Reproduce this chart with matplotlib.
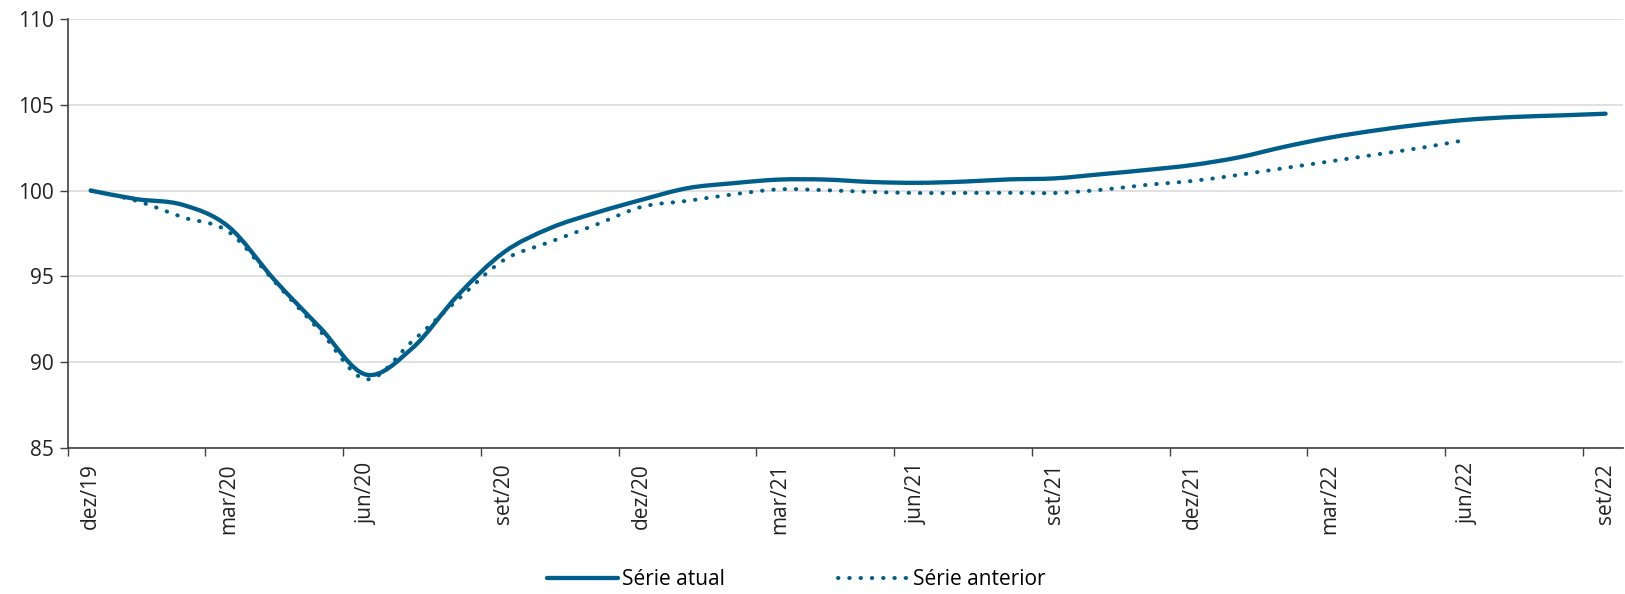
import numpy as np
import matplotlib.pyplot as plt
from matplotlib.path import Path
from matplotlib.patches import PathPatch
from matplotlib.lines import Line2D

plt.rcParams['font.family'] = ['Open Sans', 'DejaVu Sans']

# monthly index, dez/19 = 100
serie_atual = [100.0, 99.5, 99.17, 97.9, 94.8, 92.0, 89.27, 90.8, 93.9, 96.4,
               97.8, 98.7, 99.46, 100.14, 100.43, 100.64, 100.64, 100.5, 100.45,
               100.52, 100.65, 100.71, 100.95, 101.2, 101.49, 101.93, 102.55,
               103.09, 103.51, 103.86, 104.13, 104.29, 104.38, 104.48]
serie_anterior = [100.0, 99.4, 98.45, 97.6, 94.7, 91.8, 89.0, 91.2, 93.65, 95.95,
                  97.0, 98.0, 99.05, 99.4, 99.78, 100.07, 100.02, 99.92, 99.86,
                  99.86, 99.87, 99.86, 100.04, 100.33, 100.56, 100.91, 101.31,
                  101.7, 102.1, 102.5, 102.97]
tick_labels = ['dez/19', 'mar/20', 'jun/20', 'set/20', 'dez/20', 'mar/21',
               'jun/21', 'set/21', 'dez/21', 'mar/22', 'jun/22', 'set/22']
y_ticks = [85, 90, 95, 100, 105, 110]

cor = '#005f8a'


def smooth_path(y):
    # cubic bezier through every point (excel-style smoothed line)
    y = np.asarray(y, dtype=float)
    x = np.arange(len(y), dtype=float)
    p = np.column_stack([x, y])
    pp = np.vstack([p[0], p, p[-1]])
    verts = [p[0]]
    codes = [Path.MOVETO]
    for i in range(len(p) - 1):
        p0, p1, p2, p3 = pp[i], pp[i + 1], pp[i + 2], pp[i + 3]
        c1 = p1 + (p2 - p0) / 6.0
        c2 = p2 - (p3 - p1) / 6.0
        verts += [c1, c2, p2]
        codes += [Path.CURVE4] * 3
    return Path(verts, codes)


fig = plt.figure(figsize=(16.25, 5.94), dpi=100)
ax = fig.add_axes([0.0417, 0.246, 0.9571, 0.722])

dots = (0, (0.1, 2.7))
ax.add_patch(PathPatch(smooth_path(serie_atual), fill=False, edgecolor=cor,
                       lw=3.1, capstyle='round', joinstyle='round', zorder=3))
ax.add_patch(PathPatch(smooth_path(serie_anterior), fill=False, edgecolor=cor,
                       lw=2.9, linestyle=dots, capstyle='round', zorder=3))

ax.set_xlim(-0.5, 33.38)
ax.set_ylim(85, 110)
ax.set_yticks(y_ticks)

# labels sit on the months, tick marks on the boundaries between them
pos = np.arange(len(tick_labels)) * 3
ax.set_xticks(pos)
ax.set_xticklabels(tick_labels, rotation=90, va='top', ha='center')
ax.set_xticks(pos - 0.5, minor=True)
ax.tick_params(axis='x', which='major', length=0, pad=11)
ax.tick_params(axis='x', which='minor', direction='out', length=6, width=1,
               color='#404040')
ax.tick_params(axis='y', direction='out', length=6, width=1, color='#404040',
               pad=4)
ax.tick_params(axis='both', which='major', labelsize=15, labelcolor='#222222')

ax.grid(axis='y', color='#dcdcdc', lw=1.2)
ax.set_axisbelow(True)
for s in ['top', 'right']:
    ax.spines[s].set_visible(False)
for s in ['left', 'bottom']:
    ax.spines[s].set_color('#404040')
    ax.spines[s].set_linewidth(1.2)

handles = [Line2D([], [], color=cor, lw=3.1, solid_capstyle='round'),
           Line2D([], [], color=cor, lw=2.9, linestyle=dots,
                  dash_capstyle='round')]
fig.legend(handles, ['Série atual', 'Série anterior'], loc='center',
           bbox_to_anchor=(0.49, 0.024), ncol=2, frameon=False, fontsize=15,
           handlelength=3.4, handletextpad=0.2, columnspacing=5.4)

fig.savefig('out.png', dpi=100)
